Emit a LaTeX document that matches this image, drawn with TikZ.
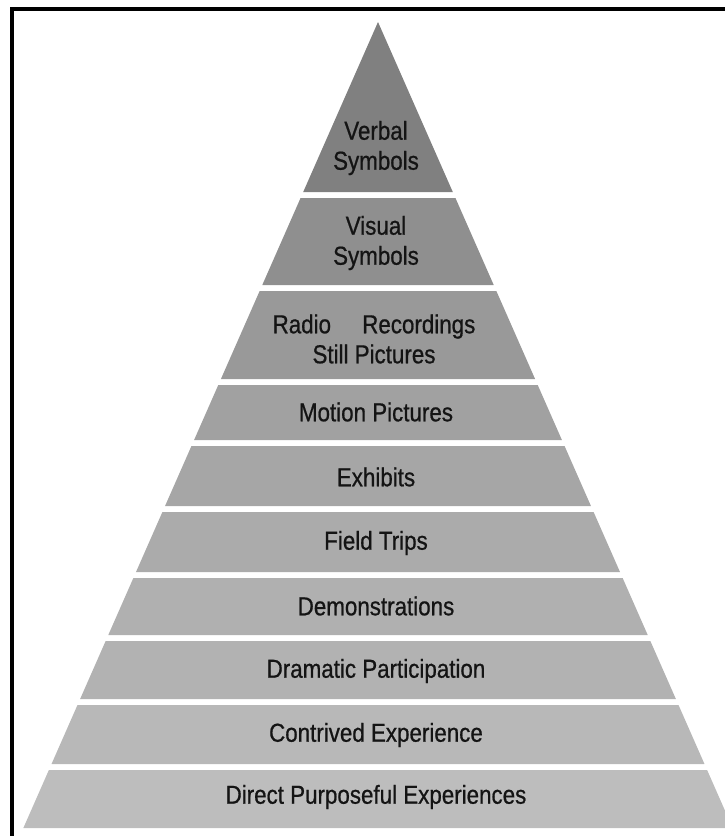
\documentclass[tikz,border=0pt]{standalone}
\usepackage{fontspec}
\setmainfont{Liberation Sans}[FakeStretch=0.86,FakeBold=0.7]
\begin{document}
\begin{tikzpicture}[x=1pt,y=-1pt,
  lbl/.style={font=\fontsize{26}{30}\selectfont, text=black!92, align=center, inner sep=0pt},
  frameline/.style={line width=4pt, black}]
\useasboundingbox (0,0) rectangle (725,836);
\clip (0,0) rectangle (725,836);
% bands
\foreach \a/\b/\k in {22/192/50, 198/285/44, 291/379/40, 385/440/37, 446/506/35, 512/572/33, 578/635/31, 641/699/30, 705/764/28, 770/828/26}{
  \pgfmathsetmacro\la{378-0.44*(\a-22)}
  \pgfmathsetmacro\ra{378+0.44*(\a-22)}
  \pgfmathsetmacro\lb{378-0.44*(\b-22)}
  \pgfmathsetmacro\rb{378+0.44*(\b-22)}
  \fill[black!\k] (\la,\a) -- (\ra,\a) -- (\rb,\b) -- (\lb,\b) -- cycle;
}
% labels
\node[lbl] (verbal) at (376,148) {Verbal\\Symbols};
\node[lbl] (visual) at (376,243) {Visual\\Symbols};
\node[lbl] (radio) at (374,339) {Radio\hspace{1.2em}Recordings\\Still Pictures};
\node[lbl] (motion) at (376,412) {Motion Pictures};
\node[lbl] (exhibits) at (376,477) {Exhibits};
\node[lbl] (field) at (376,543) {Field Trips};
\node[lbl] (demo) at (376,606) {Demonstrations};
\node[lbl] (drama) at (376,671) {Dramatic Participation};
\node[lbl] (contrived) at (376,735) {Contrived Experience};
\node[lbl] (direct) at (376,797) {Direct Purposeful Experiences};
% frame
\coordinate (fbl) at (12,836);
\coordinate (ftl) at (12,9);
\coordinate (ftr) at (725,9);
\draw[frameline] (fbl) -- (ftl) -- (ftr);
\end{tikzpicture}
\end{document}
